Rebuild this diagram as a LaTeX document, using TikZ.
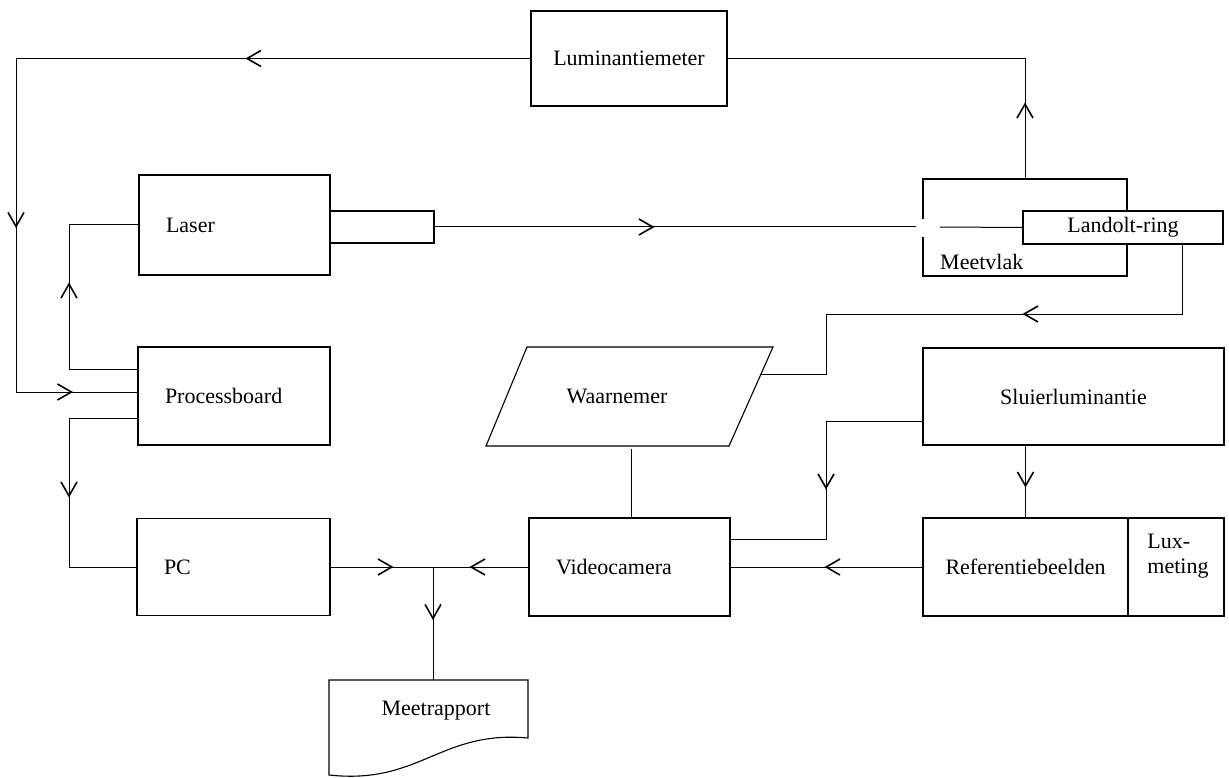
\documentclass[tikz,border=0pt]{standalone}
\usepackage{fontspec}
\setmainfont{Liberation Serif}
\usetikzlibrary{arrows.meta,decorations.markings}
\tikzset{
  box/.style={draw, line width=1.1pt, inner sep=0pt, fill=white},
  lbox/.style={box, align=left, inner xsep=27pt, text width=#1},
  conn/.style={line width=1pt},
  marr/.style={postaction={decorate, decoration={markings,
      mark=at position #1 with {\arrow{Straight Barb[length=14pt,width=16pt,line width=1.6pt]}}}}},
  every node/.append style={font=\fontsize{22}{25}\selectfont},
}
\begin{document}
\begin{tikzpicture}[x=1pt,y=-1pt]
\useasboundingbox (0,0) rectangle (1229,778);
% boxes
\node[box, minimum width=196pt, minimum height=95pt] (lum) at (629,58.5) {Luminantiemeter};
\node[lbox=137pt, minimum height=100pt] (laser) at (234.5,225) {Laser};
\node[box, minimum width=104pt, minimum height=32pt] (tube) at (382,227) {};
\draw[line width=1.1pt] (laser.north east) -- (laser.south east);
\node[lbox=138pt, minimum height=98pt] (proc) at (234,396) {Processboard};
\node[lbox=139pt, minimum height=97pt] (pc) at (233.5,567) {PC};
\node[box, minimum width=204pt, minimum height=97pt] (meet) at (1025,227.5) {};
\fill[white] (916,219) rectangle (940,237);
\node[anchor=west, inner sep=0pt] (meettxt) at (940,262) {Meetvlak};
\node[box, minimum width=200pt, minimum height=33pt] (landolt) at (1123,227.5) {Landolt-ring};
\draw[line width=1.1pt] (527,347) -- (773,347) -- (729,446) -- (486,446) -- cycle;
\node (waar) at (617,396) {Waarnemer};
\coordinate (waarR) at (761,374);
\coordinate (waarB) at (631,449);
\node[lbox=147pt, minimum height=98pt] (video) at (629.5,567) {Videocamera};
\node[box, minimum width=301pt, minimum height=97pt] (sluier) at (1073.5,396.5) {Sluierluminantie};
\node[box, minimum width=205pt, minimum height=98pt] (ref) at (1025.5,567) {Referentiebeelden};
\node[box, minimum width=96pt, minimum height=98pt] (lux) at (1176,567) {};
\node[align=left, inner sep=0pt] (luxtxt) at (1178,556) {Lux-\\meting};
\draw[line width=1.1pt] (329,680) -- (528,680) -- (528,738)
  .. controls (440,730) and (420,785) .. (329,775) -- cycle;
\node (mr) at (436,711) {Meetrapport};
\coordinate (mrtop) at (433,680);
\coordinate (junc) at (433,567);
\coordinate (gapL) at (916,227);
\coordinate (gapR) at (940,227);
% connectors
\draw[conn, marr=285pt, marr=684pt, marr=905pt]
  (lum.west) -- (16,58.5) -- (16,392) -- ([yshift=4pt]proc.west);
\draw[conn, marr=155pt] ([yshift=27pt]proc.west) -- (69,369) -- (69,225) -- (laser.west);
\draw[conn, marr=148pt] ([yshift=-22pt]proc.west) -- (69,418) -- (69,567) -- (pc.west);
\draw[conn, marr=220pt] (tube.east) -- (gapL);
\draw[conn] (gapR) -- (landolt.west);
\draw[conn, marr=76pt] (meet.north) -- (meet.north |- lum.east) -- (lum.east);
\draw[conn, marr=229pt] ([xshift=59pt]landolt.south) -- (1182,314) -- (826,314) -- (826,374) -- (waarR);
\draw[conn] (waarB) -- (waarB |- video.north);
\draw[conn, marr=165pt] ([yshift=-24.5pt]sluier.west) -- (826,421) -- (826,539) -- ([yshift=28pt]video.east);
\draw[conn, marr=42pt] (ref.north |- sluier.south) -- (ref.north);
\draw[conn, marr=98pt] (ref.west) -- (video.east);
\draw[conn, marr=63pt] (pc.east) -- (junc);
\draw[conn, marr=59pt] (video.west) -- (junc);
\draw[conn, marr=53pt] (junc) -- (mrtop);
\end{tikzpicture}
\end{document}
